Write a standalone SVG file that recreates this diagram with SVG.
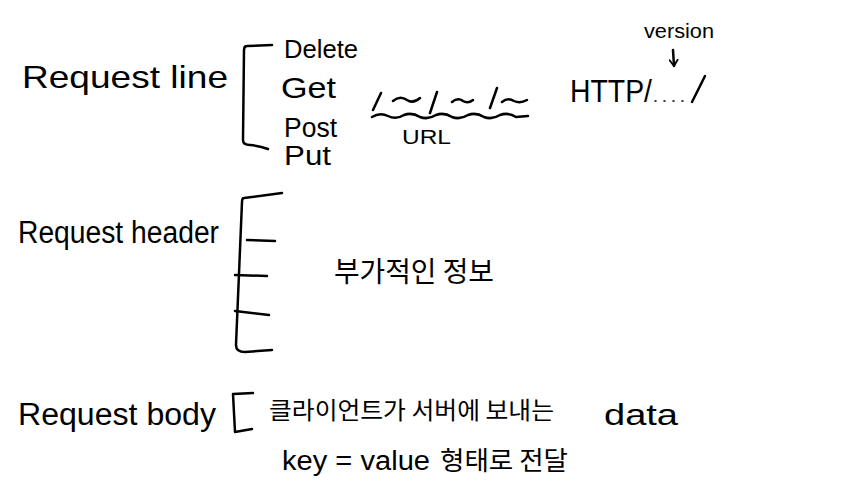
<svg xmlns="http://www.w3.org/2000/svg" width="843" height="493" viewBox="0 0 843 493">
<style>
text{font-family:"Liberation Sans","Noto Sans CJK KR",sans-serif;fill:#000}
.ko{font-family:"Noto Sans CJK KR",sans-serif}
.s{fill:none;stroke:#000;stroke-width:2.5;stroke-linecap:round;stroke-linejoin:round}
.t{fill:none;stroke:#000;stroke-width:1.6;stroke-linecap:round}
</style>
<defs>
<marker id="ah" markerWidth="10" markerHeight="10" refX="7" refY="5" orient="auto" markerUnits="userSpaceOnUse">
<path d="M1,1 L7,5 L1,9" fill="none" stroke="#000" stroke-width="1.8" stroke-linecap="round" stroke-linejoin="round"/>
</marker>
</defs>
<rect width="843" height="493" fill="#fff"/>

<g id="request-line">
<text x="22" y="88" font-size="32" textLength="206" lengthAdjust="spacingAndGlyphs">Request line</text>
</g>
<g id="methods">
<text x="284" y="58" font-size="25" textLength="74" lengthAdjust="spacingAndGlyphs">Delete</text>
<text x="281" y="98" font-size="30" textLength="55" lengthAdjust="spacingAndGlyphs">Get</text>
<text x="284" y="137" font-size="27" textLength="53" lengthAdjust="spacingAndGlyphs">Post</text>
<text x="284" y="165" font-size="27" textLength="47" lengthAdjust="spacingAndGlyphs">Put</text>
</g>
<g id="url">
<path class="s" d="M373,110 L381,93 M393,101 Q400,95 407,100 Q413,104 420,98 M430,113 L437,92 M452,102 Q458,97 463,101 Q468,104 473,100 M490,108 L497,88 M502,102 Q508,97 514,101 Q520,104 527,100"/>
<path class="s" d="M372,117 Q380,112 388,116 Q396,120 404,115 Q412,112 420,117 Q428,120 436,115 Q444,112 452,117 Q460,120 468,115 Q476,112 484,117 Q492,120 500,115 Q508,112 516,117 L528,116"/>
<text x="402" y="144" font-size="21" textLength="49" lengthAdjust="spacingAndGlyphs">URL</text>
</g>
<g id="http">
<text x="570" y="102" font-size="32" textLength="82" lengthAdjust="spacingAndGlyphs">HTTP/</text>
<path class="t" d="M655,101 L656,101 M664,101 L665,101 M673,101 L674,101 M682,101 L683,101"/>
<path class="s" d="M692,102 L705,76"/>
</g>
<g id="version">
<text x="644" y="38" font-size="20" textLength="70" lengthAdjust="spacingAndGlyphs">version</text>
</g>

<g id="request-header">
<text x="18" y="243" font-size="31" textLength="201" lengthAdjust="spacingAndGlyphs">Request header</text>
<text class="ko" x="334" y="282" font-size="28" textLength="160" lengthAdjust="spacingAndGlyphs">부가적인 정보</text>
</g>

<g id="request-body">
<text x="18" y="425" font-size="31" textLength="198" lengthAdjust="spacingAndGlyphs">Request body</text>
<text class="ko" x="269" y="419" font-size="24" textLength="285" lengthAdjust="spacingAndGlyphs">클라이언트가 서버에 보내는</text>
<text x="604" y="425" font-size="29" textLength="74" lengthAdjust="spacingAndGlyphs">data</text>
<text x="282" y="470" font-size="27" textLength="148" lengthAdjust="spacingAndGlyphs">key = value</text>
<text class="ko" x="440" y="470" font-size="26" textLength="128" lengthAdjust="spacingAndGlyphs">형태로 전달</text>
</g>

<g id="connectors">
<path class="s" d="M272,45 L247,46 Q244,46 244,50 L243,140 Q243,145 250,145 Q260,146 268,149"/>
<path class="s" d="M673,50 L674,66" marker-end="url(#ah)"/>
<path class="s" d="M282,193 L244,198 Q242,198 242,202 L236,345 Q236,352 245,352 L272,350"/>
<path class="s" d="M247,240 L275,241 M235,275 L267,276 M235,311 L269,315"/>
<path class="s" d="M253,393 L233,394 L235,432 L252,429"/>
</g>
</svg>
